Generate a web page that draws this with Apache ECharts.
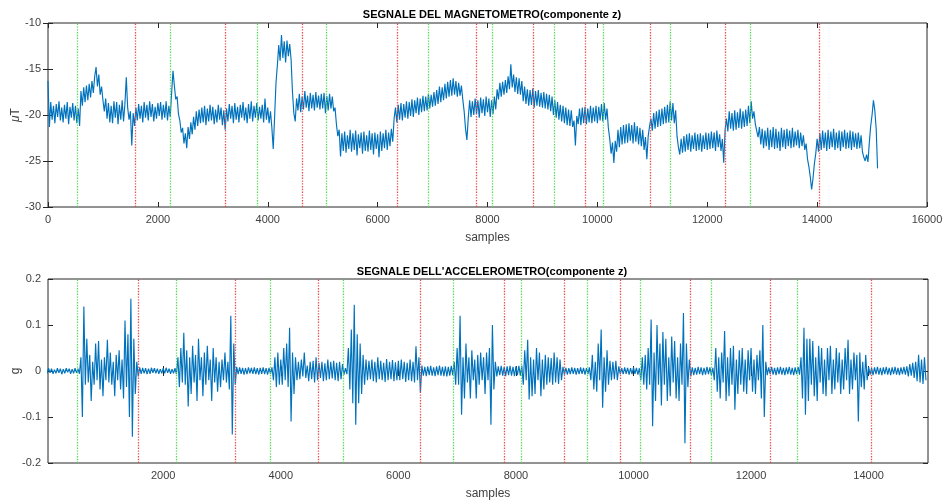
<!DOCTYPE html>
<html>
<head>
<meta charset="utf-8">
<script src="https://cdn.jsdelivr.net/npm/echarts@6/dist/echarts.min.js"></script>
<style>
  html, body { margin: 0; padding: 0; background: #ffffff; }
  #chart { width: 945px; height: 501px; }
</style>
</head>
<body>
<div id="chart"></div>
<script>
// Magnetometer z component, one value every 25 samples (μT)
const magStep = 25;
const magZ = [
  -16.3, -21.3, -18.6, -20.5, -19.0, -20.9, -18.8, -20.2, -18.5, -20.6, -19.2, -20.8, -18.9, -20.4, -18.6, -21.0, -19.1, -20.3, -18.7, -20.6,
  -19.0, -20.9, -19.3, -21.2, -17.4, -19.0, -17.0, -18.6, -16.8, -18.4, -16.6, -18.1, -16.3, -17.6, -15.8, -14.8, -16.9, -15.6, -17.8, -16.9,
  -18.4, -19.6, -18.2, -20.4, -18.7, -20.8, -19.0, -20.9, -18.5, -20.3, -18.6, -21.0, -18.9, -20.5, -18.4, -20.7, -18.8, -15.9, -19.2, -20.5,
  -19.6, -23.3, -19.8, -21.2, -19.2, -20.6, -18.8, -20.4, -19.0, -20.8, -18.6, -20.3, -18.9, -20.6, -18.5, -20.2, -18.8, -20.7, -19.1, -20.4,
  -18.7, -20.1, -18.6, -20.5, -18.9, -20.3, -18.5, -20.6, -19.0, -20.2, -17.6, -15.2, -16.8, -18.3, -18.0, -19.9, -20.6, -21.9, -21.4, -23.1,
  -22.0, -23.6, -21.3, -22.6, -20.8, -22.1, -20.2, -21.6, -19.6, -21.2, -19.4, -20.9, -19.2, -20.8, -19.0, -21.1, -19.3, -20.7, -18.9, -20.6,
  -19.1, -21.0, -19.4, -20.8, -18.9, -20.5, -19.2, -21.1, -19.5, -21.6, -19.3, -20.7, -18.8, -20.4, -19.0, -20.9, -18.7, -20.5, -19.1, -20.8,
  -18.9, -20.3, -18.6, -20.6, -19.2, -20.9, -18.8, -20.4, -18.5, -20.7, -19.0, -20.3, -18.7, -20.6, -19.1, -20.4, -18.9, -20.8, -18.2, -20.5,
  -19.2, -20.9, -19.6, -21.4, -23.7, -20.2, -16.5, -14.6, -12.4, -14.1, -11.3, -13.8, -12.0, -14.3, -11.9, -13.6, -12.3, -14.0, -17.5, -19.8,
  -20.7, -18.2, -19.5, -17.7, -19.7, -18.0, -19.4, -17.4, -19.2, -17.9, -19.6, -17.6, -19.3, -17.8, -19.5, -17.5, -19.2, -17.9, -19.4, -17.7,
  -19.3, -17.6, -19.8, -17.9, -19.5, -17.7, -19.3, -18.0, -19.6, -19.2, -21.0, -22.3, -21.6, -24.5, -22.0, -23.9, -21.8, -24.1, -22.2, -23.7,
  -21.6, -24.0, -22.0, -23.8, -21.7, -24.4, -22.1, -23.6, -21.9, -24.2, -21.8, -23.9, -22.2, -24.0, -21.7, -23.8, -22.0, -24.3, -21.9, -23.7,
  -22.1, -24.6, -21.8, -23.9, -22.0, -23.6, -21.6, -23.8, -21.9, -23.4, -21.5, -22.9, -20.4, -19.2, -20.8, -18.9, -20.5, -18.7, -20.6, -18.8,
  -20.3, -18.5, -20.4, -18.6, -20.1, -18.3, -20.2, -18.4, -19.8, -18.1, -20.0, -18.2, -19.7, -17.9, -19.6, -18.0, -19.5, -17.7, -19.3, -17.8,
  -19.1, -17.5, -19.0, -17.3, -18.8, -16.9, -18.6, -17.0, -18.4, -16.6, -18.2, -16.4, -18.0, -16.2, -17.9, -16.0, -17.8, -16.3, -18.0, -16.5,
  -17.9, -16.8, -18.3, -19.6, -21.5, -22.7, -20.3, -18.4, -20.2, -18.5, -20.0, -18.2, -19.9, -18.4, -20.3, -18.1, -19.8, -18.3, -20.1, -18.0,
  -19.7, -18.2, -20.2, -18.4, -19.9, -18.0, -19.4, -17.2, -18.3, -16.5, -18.0, -16.4, -17.8, -16.2, -17.6, -15.8, -17.2, -14.5, -17.0, -15.6,
  -17.5, -15.9, -17.7, -16.0, -17.8, -16.3, -18.5, -16.9, -18.8, -17.2, -19.0, -17.3, -18.9, -17.1, -19.2, -17.4, -19.0, -17.3, -19.1, -17.6,
  -19.2, -17.5, -19.3, -17.7, -19.4, -17.8, -19.6, -18.0, -20.0, -18.4, -20.3, -18.6, -20.5, -18.9, -20.7, -19.0, -20.9, -19.2, -21.1, -19.4,
  -21.2, -19.5, -21.3, -20.6, -23.3, -20.1, -21.0, -19.3, -21.1, -19.2, -20.9, -19.1, -21.0, -19.3, -20.8, -19.0, -20.9, -19.2, -20.7, -19.0,
  -20.9, -19.1, -20.6, -18.8, -20.7, -18.7, -20.5, -19.3, -21.4, -22.6, -24.2, -23.0, -25.2, -22.8, -24.0, -21.6, -23.5, -21.3, -23.2, -21.1,
  -23.1, -21.0, -23.0, -20.9, -22.8, -21.1, -23.1, -20.8, -22.9, -21.2, -23.2, -21.4, -23.4, -21.6, -23.8, -22.4, -24.8, -22.3, -21.2, -20.4,
  -21.7, -19.8, -21.5, -19.6, -21.3, -19.4, -21.2, -19.3, -21.0, -19.1, -20.9, -18.9, -20.8, -18.5, -20.6, -18.7, -20.9, -19.5, -22.3, -23.5,
  -24.3, -22.6, -24.1, -22.3, -24.0, -22.1, -23.8, -22.0, -24.0, -22.2, -23.7, -21.9, -23.9, -22.1, -23.8, -22.0, -24.0, -22.2, -23.7, -21.9,
  -23.8, -22.0, -23.7, -21.8, -23.6, -21.9, -23.9, -21.7, -23.5, -22.1, -23.9, -22.6, -25.2, -21.6, -20.4, -21.8, -19.6, -21.5, -19.8, -21.7,
  -19.5, -21.6, -19.7, -21.4, -19.3, -21.5, -19.6, -21.3, -19.4, -21.2, -19.0, -20.9, -18.5, -20.4, -19.6, -21.0, -20.8, -22.4, -21.3, -23.2,
  -21.5, -23.6, -21.7, -23.4, -21.4, -23.8, -21.6, -23.5, -21.3, -23.7, -21.5, -23.6, -21.8, -23.9, -21.4, -23.5, -21.6, -23.7, -21.5, -23.4,
  -21.7, -23.6, -21.4, -23.5, -21.8, -23.3, -21.6, -23.6, -21.9, -23.4, -22.2, -23.8, -23.1, -24.8, -25.6, -26.7, -28.1, -26.9, -25.3, -24.2,
  -22.6, -24.0, -22.0, -23.8, -21.7, -23.6, -21.9, -23.9, -21.6, -23.7, -21.8, -23.5, -21.5, -23.8, -21.9, -23.6, -21.7, -23.9, -21.8, -23.5,
  -21.6, -23.7, -21.9, -23.6, -21.7, -23.8, -21.8, -23.5, -22.0, -23.7, -21.9, -23.6, -22.2, -24.0, -24.6, -25.0, -24.3, -25.1, -23.0, -21.2,
  -20.0, -18.4, -19.5, -21.5, -25.8
];

// Accelerometer z component, one value every 25 samples (g)
const accStep = 25;
const accZ = [
  0.004, -0.005, 0.006, -0.004, 0.005, -0.006, 0.003, -0.005, 0.006, -0.004, 0.005, -0.007, 0.004, -0.005, 0.006, -0.003, 0.005, -0.006, 0.004, -0.005,
  0.006, -0.004, 0.005, -0.006, 0.03, -0.1, 0.14, -0.03, 0.07, -0.025, 0.035, -0.065, 0.02, -0.03, 0.06, -0.02, 0.065, -0.04, 0.025, -0.055,
  0.03, -0.02, 0.068, -0.025, 0.04, -0.03, 0.02, -0.055, 0.035, -0.02, 0.045, -0.04, 0.025, -0.06, 0.11, -0.035, 0.08, -0.1, 0.157, -0.143,
  0.07, -0.05, 0.02, -0.012, 0.008, -0.006, 0.007, -0.005, 0.006, -0.007, 0.005, -0.006, 0.007, -0.004, 0.006, -0.005, 0.005, -0.006, 0.004, -0.005,
  0.006, -0.005, 0.007, -0.004, 0.005, -0.006, 0.004, -0.005, 0.006, -0.007, 0.03, -0.035, 0.05, -0.025, 0.083, -0.03, 0.045, -0.077, 0.03, -0.05,
  0.055, -0.025, 0.035, -0.065, 0.07, -0.02, 0.03, -0.055, 0.04, -0.03, 0.055, -0.02, 0.025, -0.065, 0.05, -0.025, 0.03, -0.045, 0.02, -0.035,
  0.025, -0.02, 0.04, -0.025, 0.02, -0.04, 0.12, -0.138, 0.06, -0.03, 0.009, -0.007, 0.008, -0.006, 0.007, -0.008, 0.006, -0.007, 0.008, -0.005,
  0.007, -0.006, 0.008, -0.007, 0.006, -0.008, 0.007, -0.006, 0.008, -0.007, 0.006, -0.008, 0.007, -0.006, 0.008, -0.02, 0.03, -0.035, 0.04, -0.03,
  0.025, -0.03, 0.05, -0.02, 0.06, -0.035, 0.094, -0.11, 0.04, -0.05, 0.03, -0.02, 0.02, -0.018, 0.025, -0.012, 0.04, -0.015, 0.012, -0.022,
  0.02, -0.018, 0.022, -0.025, 0.03, -0.02, 0.018, -0.015, 0.02, -0.022, 0.017, -0.02, 0.025, -0.018, 0.02, -0.016, 0.022, -0.02, 0.018, -0.022,
  0.02, -0.018, 0.015, -0.008, 0.006, -0.007, 0.05, -0.04, 0.09, -0.07, 0.144, -0.117, 0.08, -0.07, 0.06, -0.05, 0.035, -0.03, 0.025, -0.02,
  0.022, -0.018, 0.025, -0.022, 0.02, -0.025, 0.03, -0.018, 0.022, -0.02, 0.018, -0.024, 0.026, -0.02, 0.02, -0.018, 0.024, -0.022, 0.019, -0.02,
  0.022, -0.02, 0.025, -0.018, 0.02, -0.024, 0.018, -0.02, 0.025, -0.022, 0.02, -0.025, 0.054, -0.02, 0.03, -0.048, 0.012, -0.01, 0.009, -0.011,
  0.01, -0.009, 0.011, -0.01, 0.008, -0.011, 0.01, -0.009, 0.012, -0.01, 0.009, -0.011, 0.01, -0.012, 0.009, -0.01, 0.011, -0.009, 0.02, -0.03,
  0.05, -0.03, 0.12, -0.095, 0.03, -0.06, 0.06, -0.025, 0.03, -0.06, 0.045, -0.02, 0.025, -0.06, 0.035, -0.03, 0.04, -0.02, 0.03, -0.05,
  0.04, -0.02, 0.05, -0.117, 0.1, -0.04, 0.02, -0.012, 0.01, -0.009, 0.011, -0.01, 0.009, -0.011, 0.01, -0.009, 0.011, -0.01, 0.009, -0.011,
  0.01, -0.009, 0.011, -0.01, 0.012, -0.03, 0.045, -0.02, 0.068, -0.062, 0.03, -0.055, 0.025, -0.05, 0.05, -0.02, 0.04, -0.055, 0.025, -0.04,
  0.035, -0.03, 0.03, -0.025, 0.028, -0.03, 0.04, -0.025, 0.03, -0.028, 0.025, -0.02, 0.009, -0.008, 0.007, -0.008, 0.006, -0.007, 0.008, -0.006,
  0.007, -0.008, 0.006, -0.007, 0.008, -0.006, 0.007, -0.008, 0.006, -0.007, 0.008, -0.02, 0.035, -0.04, 0.02, -0.045, 0.06, -0.02, 0.09, -0.08,
  0.03, -0.045, 0.045, -0.03, 0.022, -0.02, 0.02, -0.018, 0.022, -0.02, 0.01, -0.007, 0.006, -0.007, 0.008, -0.006, 0.007, -0.008, 0.006, -0.007,
  0.008, -0.006, 0.007, -0.008, 0.006, -0.02, 0.03, -0.03, 0.035, -0.04, 0.05, -0.03, 0.112, -0.12, 0.04, -0.065, 0.1, -0.03, 0.06, -0.075,
  0.085, -0.03, 0.07, -0.065, 0.03, -0.055, 0.075, -0.025, 0.065, -0.06, 0.03, -0.065, 0.06, -0.03, 0.126, -0.157, 0.06, -0.035, 0.025, -0.012,
  0.008, -0.009, 0.007, -0.008, 0.009, -0.007, 0.008, -0.009, 0.007, -0.008, 0.009, -0.007, 0.008, -0.009, 0.007, -0.02, 0.05, -0.045, 0.03, -0.06,
  0.04, -0.025, 0.087, -0.065, 0.03, -0.055, 0.05, -0.03, 0.055, -0.084, 0.025, -0.05, 0.045, -0.03, 0.05, -0.045, 0.025, -0.05, 0.045, -0.02,
  0.05, -0.045, 0.025, -0.05, 0.035, -0.02, 0.045, -0.06, 0.1, -0.1, 0.02, -0.009, 0.008, -0.007, 0.009, -0.008, 0.007, -0.009, 0.008, -0.007,
  0.009, -0.008, 0.007, -0.009, 0.008, -0.007, 0.009, -0.008, 0.007, -0.009, 0.008, -0.007, 0.009, -0.008, 0.03, -0.06, 0.094, -0.095, 0.07, -0.065,
  0.07, -0.03, 0.065, -0.055, 0.03, -0.065, 0.055, -0.025, 0.05, -0.05, 0.025, -0.055, 0.05, -0.02, 0.055, -0.05, 0.025, -0.04, 0.05, -0.025,
  0.04, -0.05, 0.025, -0.04, 0.05, -0.02, 0.068, -0.05, 0.025, -0.04, 0.04, -0.02, 0.035, -0.11, 0.04, -0.035, 0.02, -0.04, 0.035, -0.02,
  0.009, -0.008, 0.007, -0.009, 0.008, -0.007, 0.009, -0.008, 0.007, -0.009, 0.008, -0.007, 0.009, -0.008, 0.007, -0.009, 0.008, -0.007, 0.009, -0.008,
  0.007, -0.009, 0.008, -0.007, 0.009, -0.008, 0.01, -0.012, 0.015, -0.01, 0.018, -0.015, 0.02, -0.022, 0.035, -0.025, 0.025, -0.028, 0.03, -0.02
];

// Event markers (sample index)
const greenMarks = [530, 2218, 3815, 5058, 6926, 8095, 9210, 10110, 11330, 12785];
const redMarks = [1580, 3232, 4635, 6366, 7804, 8828, 9773, 10968, 12334, 14038];

// Tick values of the lower x axis
const accTicks = [2000, 4000, 6000, 8000, 10000, 12000, 14000];

const titles = [
  'SEGNALE DEL MAGNETOMETRO(componente z)',
  "SEGNALE DELL'ACCELEROMETRO(componente z)"
];

const FONT = '"Liberation Sans", Arial, Helvetica, sans-serif';
const AXIS_COLOR = '#262626';
const LABEL_COLOR = '#404040';
const SIGNAL_COLOR = '#0072BD';
const GREEN = '#4fd84f';
const RED = '#e04848';

const chart = echarts.init(document.getElementById('chart'), null, { renderer: 'canvas' });

function markLines() {
  const style = (c) => ({ color: c, width: 1.3, type: [1.4, 1.4], opacity: 0.95 });
  return {
    silent: true,
    symbol: 'none',
    animation: false,
    label: { show: false },
    emphasis: { disabled: true },
    data: greenMarks.map(x => ({ xAxis: x, lineStyle: style(GREEN) }))
      .concat(redMarks.map(x => ({ xAxis: x, lineStyle: style(RED) })))
  };
}

const plain = (v) => String(v);
const tickStyle = { inside: true, length: 5, lineStyle: { color: AXIS_COLOR, width: 1 } };
const labelStyle = { color: LABEL_COLOR, fontSize: 11, fontFamily: FONT, formatter: plain };
const nameStyle = { color: LABEL_COLOR, fontSize: 12, fontFamily: FONT };

function xAxisPair(gridIndex, base) {
  const main = Object.assign({
    type: 'value', gridIndex, position: 'bottom',
    axisLine: { show: false },
    axisTick: tickStyle,
    axisLabel: Object.assign({ margin: 7 }, labelStyle),
    splitLine: { show: false },
    name: 'samples', nameLocation: 'middle', nameGap: 25, nameTextStyle: nameStyle
  }, base.main);
  const top = Object.assign({
    type: 'value', gridIndex, position: 'top',
    axisLine: { show: false },
    axisTick: tickStyle,
    axisLabel: { show: false },
    splitLine: { show: false }
  }, base.top);
  return [main, top];
}

function yAxisPair(gridIndex, base) {
  const main = Object.assign({
    type: 'value', gridIndex, position: 'left',
    axisLine: { show: false },
    axisTick: tickStyle,
    axisLabel: Object.assign({ margin: 7 }, labelStyle),
    splitLine: { show: false },
    nameLocation: 'middle', nameRotate: 90, nameMoveOverlap: false
  }, base);
  const right = Object.assign({}, base, {
    type: 'value', gridIndex, position: 'right',
    axisLine: { show: false },
    axisTick: tickStyle,
    axisLabel: { show: false },
    splitLine: { show: false },
    name: ''
  });
  return [main, right];
}

const magX = xAxisPair(0, {
  main: { min: 0, max: 16000, interval: 2000 },
  top: { min: 0, max: 16000, interval: 2000 }
});
const accX = xAxisPair(1, {
  main: {
    min: 40, max: 15010,
    axisLabel: Object.assign({ margin: 7, customValues: accTicks }, labelStyle),
    axisTick: Object.assign({ customValues: accTicks }, tickStyle)
  },
  top: {
    min: 40, max: 15010,
    axisTick: Object.assign({ customValues: accTicks }, tickStyle)
  }
});
const magY = yAxisPair(0, {
  min: -30, max: -10, interval: 5,
  name: '{mu|μ}T', nameGap: 26,
  nameTextStyle: Object.assign({}, nameStyle, {
    rich: { mu: { fontStyle: 'italic', fontSize: 12, fontFamily: FONT, color: LABEL_COLOR } }
  })
});
const accY = yAxisPair(1, {
  min: -0.2, max: 0.2, interval: 0.1,
  name: 'g', nameGap: 26, nameTextStyle: nameStyle
});

const gridBase = {
  show: true, borderColor: AXIS_COLOR, borderWidth: 1, backgroundColor: '#fff',
  containLabel: false, outerBoundsMode: 'none'
};

const option = {
  animation: false,
  backgroundColor: '#ffffff',
  title: [
    { text: titles[0], left: 487, top: 4, textAlign: 'center',
      textStyle: { fontSize: 11, fontWeight: 'bold', color: '#000', fontFamily: FONT } },
    { text: titles[1], left: 487, top: 261, textAlign: 'center',
      textStyle: { fontSize: 11, fontWeight: 'bold', color: '#000', fontFamily: FONT } }
  ],
  grid: [
    Object.assign({ left: 48, top: 23, width: 879, height: 184 }, gridBase),
    Object.assign({ left: 48, top: 279, width: 880, height: 184 }, gridBase)
  ],
  xAxis: [magX[0], magX[1], accX[0], accX[1]],
  yAxis: [magY[0], magY[1], accY[0], accY[1]],
  series: [
    {
      type: 'line', xAxisIndex: 0, yAxisIndex: 0,
      data: magZ.map((v, i) => [i * magStep, v]),
      showSymbol: false, symbol: 'none',
      lineStyle: { color: SIGNAL_COLOR, width: 1.15 },
      clip: true,
      markLine: markLines()
    },
    {
      type: 'line', xAxisIndex: 2, yAxisIndex: 2,
      data: accZ.map((v, i) => [i * accStep, v]),
      showSymbol: false, symbol: 'none',
      lineStyle: { color: SIGNAL_COLOR, width: 1.15 },
      clip: true,
      markLine: markLines()
    }
  ]
};

chart.setOption(option);
</script>
</body>
</html>
